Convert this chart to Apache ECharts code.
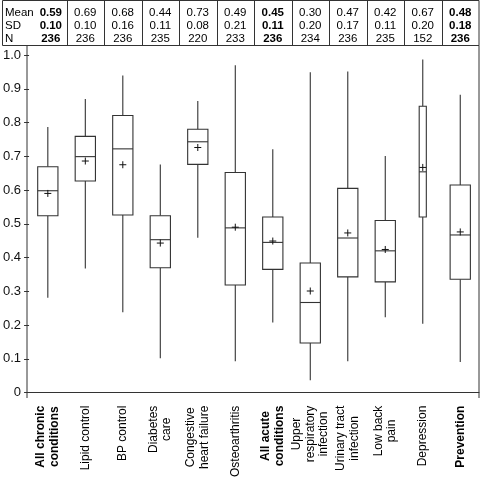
<!DOCTYPE html>
<html>
<head>
<meta charset="utf-8">
<script src="https://cdn.jsdelivr.net/npm/echarts@6/dist/echarts.min.js"></script>
<style>html,body{margin:0;padding:0;background:#fff}#c{width:480px;height:480px}</style>
</head>
<body>
<div id="c"></div>
<script>
// ---- data ----
const categories = ['All chronic\nconditions', 'Lipid control', 'BP control', 'Diabetes\ncare', 'Congestive\nheart failure', 'Osteoarthritis', 'All acute\nconditions', 'Upper\nrespiratory\ninfection', 'Urinary tract\ninfection', 'Low back\npain', 'Depression', 'Prevention'];
const boldCategories = ['All chronic\nconditions', 'All acute\nconditions', 'Prevention'];
const whiskerLow = [0.281, 0.368, 0.238, 0.102, 0.459, 0.093, 0.208, 0.037, 0.093, 0.223, 0.204, 0.091];
const q1 = [0.524, 0.627, 0.526, 0.370, 0.676, 0.319, 0.365, 0.147, 0.343, 0.328, 0.520, 0.336];
const median = [0.598, 0.699, 0.722, 0.453, 0.743, 0.488, 0.445, 0.267, 0.458, 0.420, 0.654, 0.467];
const q3 = [0.669, 0.759, 0.821, 0.524, 0.780, 0.652, 0.520, 0.384, 0.605, 0.510, 0.848, 0.615];
const whiskerHigh = [0.787, 0.870, 0.939, 0.676, 0.864, 0.970, 0.721, 0.949, 0.951, 0.701, 0.987, 0.882];
const meanValues = [0.590, 0.686, 0.675, 0.443, 0.726, 0.490, 0.449, 0.301, 0.473, 0.424, 0.667, 0.476];
const tableMean = ['0.59', '0.69', '0.68', '0.44', '0.73', '0.49', '0.45', '0.30', '0.47', '0.42', '0.67', '0.48'];
const tableSD = ['0.10', '0.10', '0.16', '0.11', '0.08', '0.21', '0.11', '0.20', '0.17', '0.11', '0.20', '0.18'];
const tableN = ['236', '236', '236', '235', '220', '233', '236', '234', '236', '235', '152', '236'];
const rowLabels = ['Mean', 'SD', 'N'];
const yTicks = [0, 0.1, 0.2, 0.3, 0.4, 0.5, 0.6, 0.7, 0.8, 0.9, 1.0];

// ---- style ----
const FONT = "'Liberation Sans', Arial, Helvetica, sans-serif";
const LINE = '#333';
const narrowBoxes = ['Depression'];

const chart = echarts.init(document.getElementById('c'), null, {renderer: 'canvas'});

const rows = categories.map((c, i) => [i, whiskerLow[i], q1[i], median[i], q3[i], whiskerHigh[i], meanValues[i]]);

function renderItem(params, api) {
  const idx = api.value(0);
  const band = api.size([1, 0])[0];
  const half = band * (narrowBoxes.includes(categories[idx]) ? 0.095 : 0.27);
  const pLow = api.coord([idx, api.value(1)]);
  const pQ1 = api.coord([idx, api.value(2)]);
  const pMed = api.coord([idx, api.value(3)]);
  const pQ3 = api.coord([idx, api.value(4)]);
  const pHigh = api.coord([idx, api.value(5)]);
  const pMean = api.coord([idx, api.value(6)]);
  const x = pMed[0];
  const st = {stroke: LINE, lineWidth: 1.1, fill: null};
  const m = 3.5;
  return {
    type: 'group',
    children: [
      {type: 'line', shape: {x1: x, y1: pQ3[1], x2: x, y2: pHigh[1]}, style: st},
      {type: 'line', shape: {x1: x, y1: pQ1[1], x2: x, y2: pLow[1]}, style: st},
      {type: 'rect', shape: {x: x - half, y: pQ3[1], width: 2 * half, height: pQ1[1] - pQ3[1]}, style: {stroke: LINE, lineWidth: 1.1, fill: '#fff'}},
      {type: 'line', shape: {x1: x - half, y1: pMed[1], x2: x + half, y2: pMed[1]}, style: st},
      {type: 'line', shape: {x1: x - m, y1: pMean[1], x2: x + m, y2: pMean[1]}, style: {stroke: '#111', lineWidth: 1}},
      {type: 'line', shape: {x1: x, y1: pMean[1] - m, x2: x, y2: pMean[1] + m}, style: {stroke: '#111', lineWidth: 1}}
    ]
  };
}

const richBase = {fontSize: 12, fontFamily: FONT, color: '#000', align: 'center', lineHeight: 13.5};

chart.setOption({
  animation: false,
  grid: {left: 27, right: 1, top: 55, bottom: 85},
  xAxis: {
    type: 'category',
    data: categories,
    offset: 3,
    axisLine: {lineStyle: {color: LINE, width: 1}},
    axisTick: {alignWithLabel: true, length: 5, lineStyle: {color: LINE}},
    axisLabel: {
      rotate: 90, interval: 0, margin: 10,
      formatter: function (value) {
        const s = boldCategories.includes(value) ? 'b' : 'n';
        return value.split('\n').map(l => '{' + s + '|' + l + '}').join('\n');
      },
      rich: {
        b: Object.assign({}, richBase, {fontWeight: 'bold'}),
        n: Object.assign({}, richBase)
      }
    }
  },
  yAxis: {
    type: 'value', min: 0, max: 1, interval: 0.1,
    axisLine: {show: false},
    axisTick: {show: true, length: 5, lineStyle: {color: LINE}},
    splitLine: {show: false},
    axisLabel: {
      margin: 8, fontSize: 13, fontFamily: FONT, color: '#111',
      formatter: v => (yTicks.some(t => Math.abs(t - v) < 1e-9) ? (v === 0 ? '0' : v.toFixed(1)) : '')
    }
  },
  series: [{type: 'custom', renderItem: renderItem, data: rows, clip: false}]
});

// ---- frame and summary table ----
const px = i => chart.convertToPixel({xAxisIndex: 0}, i);
const plotLeft = 27, plotRight = 479, tableTop = 0.5, tableBottom = 45.5, frameBottom = 398;
const g = [];
g.push({type: 'line', shape: {x1: plotLeft, y1: tableBottom, x2: plotLeft, y2: frameBottom}, style: {stroke: LINE, lineWidth: 1}});
g.push({type: 'line', shape: {x1: plotRight, y1: tableBottom, x2: plotRight, y2: frameBottom}, style: {stroke: LINE, lineWidth: 1}});
g.push({type: 'rect', shape: {x: 2.5, y: tableTop, width: plotRight - 2.5, height: tableBottom - tableTop}, style: {stroke: LINE, lineWidth: 1, fill: null}});
for (let i = 1; i < categories.length; i++) {
  const bx = Math.round((px(i - 1) + px(i)) / 2) + 0.5;
  g.push({type: 'line', shape: {x1: bx, y1: tableTop, x2: bx, y2: tableBottom}, style: {stroke: LINE, lineWidth: 1}});
}
const rowY = [12.5, 25.5, 39];
rowLabels.forEach((lab, r) => {
  g.push({type: 'text', x: 5, y: rowY[r], style: {text: lab, font: '11.5px ' + FONT, fill: '#000', textAlign: 'left', textVerticalAlign: 'middle'}});
});
const tableRows = [tableMean, tableSD, tableN];
categories.forEach((c, i) => {
  const bold = boldCategories.includes(c);
  const cx = i === 0 ? px(i) + 3 : px(i);
  tableRows.forEach((arr, r) => {
    g.push({type: 'text', x: cx, y: rowY[r], style: {text: arr[i], font: (bold ? 'bold ' : '') + '11.5px ' + FONT, fill: '#000', textAlign: 'center', textVerticalAlign: 'middle'}});
  });
});
chart.setOption({graphic: g});
</script>
</body>
</html>
